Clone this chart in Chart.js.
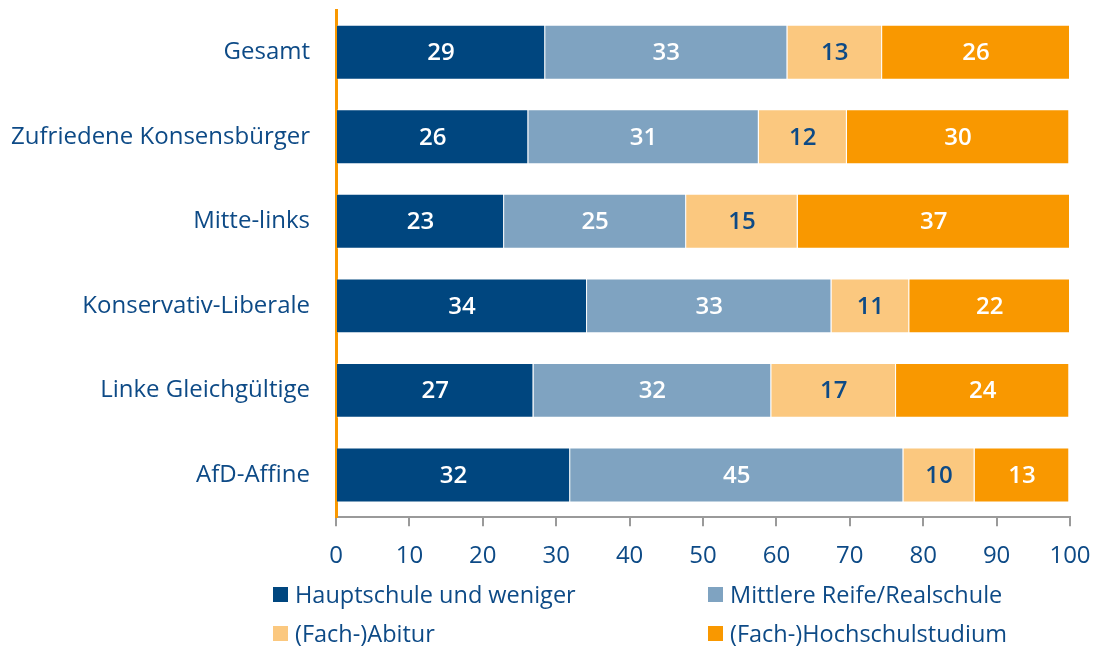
<!DOCTYPE html>
<html lang="de">
<head>
<meta charset="utf-8">
<script src="https://cdn.jsdelivr.net/npm/chart.js@4.4.1/dist/chart.umd.min.js"></script>
<style>
  body { margin: 0; background: #fff; font-family: "Open Sans", sans-serif; }
  #wrap { position: relative; width: 1095px; height: 587px; }
  #legende {
    position: absolute; left: 273px; top: 580px; width: 800px;
    display: grid; grid-template-columns: 435px 365px; row-gap: 11px;
    color: #0d4a86; font-size: 23.5px;
  }
  #legende div { display: flex; align-items: center; height: 28px; white-space: nowrap; }
  #legende span.box { display: inline-block; width: 15px; height: 15px; margin-right: 7px; }
</style>
</head>
<body>
<div id="wrap"><canvas id="chartBildung"></canvas></div>
<div id="legende"></div>
<script>
// Kategorien (Milieus)
const kategorien = ['Gesamt', 'Zufriedene Konsensbürger', 'Mitte-links', 'Konservativ-Liberale', 'Linke Gleichgültige', 'AfD-Affine'];

// Werte in Prozent
const hauptschule   = [28.5, 26.2, 22.9, 34.2, 26.9, 31.9];
const mittlereReife = [33.0, 31.4, 24.8, 33.3, 32.4, 45.4];
const abitur        = [12.9, 12.0, 15.2, 10.6, 17.0, 9.7];
const hochschule    = [25.6, 30.3, 37.1, 21.9, 23.6, 12.9];

const serienNamen = ['Hauptschule und weniger', 'Mittlere Reife/Realschule', '(Fach-)Abitur', '(Fach-)Hochschulstudium'];
const xTicks = [0, 10, 20, 30, 40, 50, 60, 70, 80, 90, 100];

const farben = ['#00467f', '#7fa3c1', '#fbc87f', '#f99800'];
const textFarben = ['#ffffff', '#ffffff', '#0d4a86', '#ffffff'];
const blau = '#0d4a86';

// Werte in die Balken schreiben
const wertLabels = {
  id: 'wertLabels',
  afterDatasetsDraw(chart) {
    const ctx = chart.ctx;
    ctx.save();
    ctx.font = '600 24px "Open Sans"';
    ctx.textAlign = 'center';
    ctx.textBaseline = 'middle';
    chart.data.datasets.forEach((ds, i) => {
      const meta = chart.getDatasetMeta(i);
      meta.data.forEach((bar, j) => {
        const mitte = (bar.x + bar.base) / 2;
        ctx.fillStyle = textFarben[i];
        ctx.fillText(Math.round(ds.data[j]), mitte, bar.y + 1);
      });
    });
    ctx.restore();
  }
};

const ctx = document.getElementById('chartBildung');
const chart = new Chart(ctx, {
  type: 'bar',
  data: {
    labels: kategorien,
    datasets: [hauptschule, mittlereReife, abitur, hochschule].map((werte, i) => ({
      label: serienNamen[i],
      data: werte,
      backgroundColor: farben[i],
      borderColor: 'rgba(255,255,255,0.45)',
      borderWidth: 1,
      categoryPercentage: 1,
      barPercentage: 0.65
    }))
  },
  options: {
    indexAxis: 'y',
    responsive: true,
    maintainAspectRatio: false,
    animation: false,
    layout: { padding: { top: 10, right: 25, left: 0, bottom: 0 } },
    plugins: {
      legend: { display: false },
      tooltip: { enabled: false }
    },
    scales: {
      x: {
        stacked: true,
        min: 0,
        max: 100,
        afterBuildTicks: (axis) => { axis.ticks = xTicks.map(v => ({ value: v })); },
        afterFit: (scale) => { scale.paddingRight = 0; scale.paddingLeft = 0; },
        grid: { drawOnChartArea: false, drawTicks: true, tickLength: 9, color: '#9a9a9a', lineWidth: 2 },
        border: { color: '#9a9a9a', width: 2 },
        ticks: { color: blau, font: { family: 'Open Sans', size: 24 }, padding: 16 }
      },
      y: {
        stacked: true,
        afterFit: (scale) => { scale.width = 336; scale.paddingTop = 0; scale.paddingBottom = 0; },
        grid: { display: false, drawTicks: false },
        border: { color: '#f99800', width: 3 },
        ticks: { color: blau, font: { family: 'Open Sans', size: 24 }, padding: 26 }
      }
    }
  },
  plugins: [wertLabels]
});

// Legende als HTML (zwei Spalten)
const legende = document.getElementById('legende');
chart.data.datasets.forEach((ds) => {
  const item = document.createElement('div');
  const box = document.createElement('span');
  box.className = 'box';
  box.style.background = ds.backgroundColor;
  item.appendChild(box);
  item.appendChild(document.createTextNode(ds.label));
  legende.appendChild(item);
});
</script>
</body>
</html>
